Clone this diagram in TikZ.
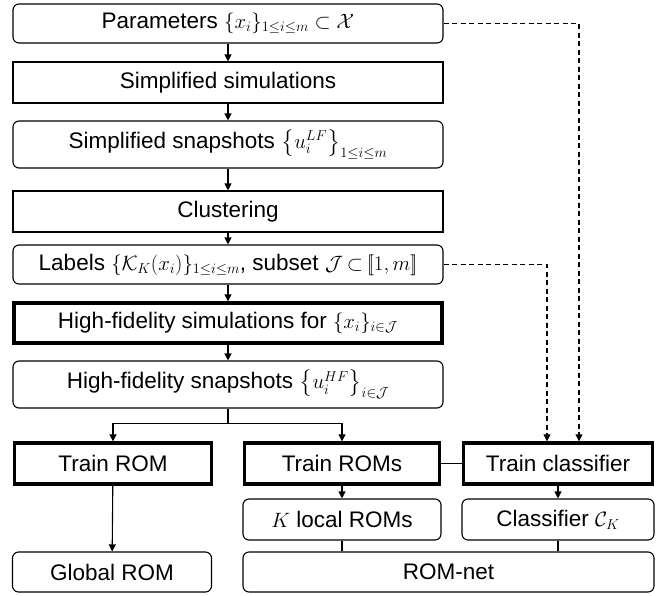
\documentclass[tikz,border=0pt]{standalone}
\usepackage{amsmath,amssymb}
\usepackage{fontspec}
\setmainfont{Liberation Sans}
\usetikzlibrary{arrows.meta}
\begin{document}
\begin{tikzpicture}[x=1pt,y=-1pt,
  box/.style={draw,line width=1.1pt,inner sep=0pt,align=center,font=\fontsize{22.5}{27}\selectfont},
  rbox/.style={box,rounded corners=6pt},
  tbox/.style={box,line width=3.4pt},
  arr/.style={line width=1.1pt,-{Triangle[length=7pt,width=7pt]}},
  ln/.style={line width=1.1pt},
  dsh/.style={line width=1.1pt,dash pattern=on 5pt off 3.5pt,-{Triangle[length=7pt,width=7pt]}}]
\useasboundingbox (0,0) rectangle (656,595);
\node[rbox,minimum width=430pt,minimum height=39pt] (p1) at (228,23.5) {Parameters $\{x_i\}_{1\le i\le m}\subset\mathcal{X}$};
\node[box,minimum width=430pt,minimum height=41pt] (p2) at (228,82.5) {Simplified simulations};
\node[rbox,minimum width=430pt,minimum height=47pt] (p3) at (228,144.5) {Simplified snapshots $\bigl\{u_i^{LF}\bigr\}_{1\le i\le m}$};
\node[box,minimum width=430pt,minimum height=41pt] (p4) at (228,211.5) {Clustering};
\node[rbox,minimum width=430pt,minimum height=39pt] (p5) at (228,264.5) {\thickmuskip=3.5mu Labels $\{\mathcal{K}_K(x_i)\}_{1\le i\le m}$, subset $\mathcal{J}\subset[\![1,m]\!]$};
\node[tbox,minimum width=428pt,minimum height=40pt] (p6) at (228,323) {High-fidelity simulations for $\{x_i\}_{i\in\mathcal{J}}$};
\node[rbox,minimum width=430pt,minimum height=47pt] (p7) at (228,384.5) {High-fidelity snapshots $\bigl\{u_i^{HF}\bigr\}_{i\in\mathcal{J}}$};
\node[tbox,minimum width=197pt,minimum height=41pt] (tr) at (113,463.5) {Train ROM};
\node[tbox,minimum width=195pt,minimum height=41pt] (trs) at (342,463.5) {Train ROMs};
\node[tbox,minimum width=189pt,minimum height=41pt] (tc) at (558,463.5) {Train classifier};
\node[rbox,minimum width=198pt,minimum height=41pt] (kl) at (342,519.5) {$K$ local ROMs};
\node[rbox,minimum width=192pt,minimum height=41pt] (cl) at (558,519.5) {Classifier $\mathcal{C}_K$};
\node[rbox,minimum width=199pt,minimum height=40pt] (gr) at (112,572) {Global ROM};
\node[rbox,minimum width=411pt,minimum height=40pt] (rn) at (448.5,572) {ROM-net};
\draw[arr] (p1) -- (p2);
\draw[arr] (p2) -- (p3);
\draw[arr] (p3) -- (p4);
\draw[arr] (p4) -- (p5);
\draw[arr] (p5) -- (p6);
\draw[arr] (p6) -- (p7);
\coordinate (br) at ([yshift=-15pt]p7.south);
\draw[ln] (p7.south) -- (br);
\draw[arr] (br) -| (tr.north);
\draw[arr] (br) -| (trs.north);
\draw[ln] (trs.east) -- (tc.west);
\draw[arr] (tr) -- (gr);
\draw[arr] (trs) -- (kl);
\draw[arr] (tc) -- (cl);
\draw[ln] (kl.south) -- (kl.south |- rn.north);
\draw[ln] (cl.south) -- (cl.south |- rn.north);
\draw[dsh] (p1.east) -| ([xshift=21pt]tc.north);
\draw[dsh] (p5.east) -| ([xshift=-11pt]tc.north);
\end{tikzpicture}
\end{document}
